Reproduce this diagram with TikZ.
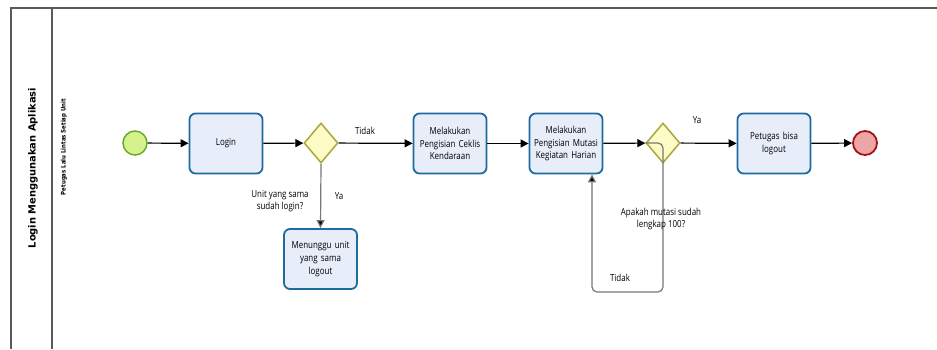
\documentclass[tikz,border=0pt]{standalone}
\usepackage{fontspec}
\setmainfont{Open Sans}[FakeStretch=0.82]
\newfontfamily\lanefont{DejaVu Sans}
\newfontfamily\lanenarrow{DejaVu Sans}[FakeStretch=0.86]
\usetikzlibrary{arrows.meta,shapes.geometric}

\definecolor{taskfill}{HTML}{E8EDFA}
\definecolor{taskline}{HTML}{1E6B9E}
\definecolor{gatefill}{HTML}{FDFBC6}
\definecolor{gateline}{HTML}{A9A838}
\definecolor{startfill}{HTML}{D6F28C}
\definecolor{startline}{HTML}{6AAB2A}
\definecolor{endfill}{HTML}{EEA5A5}
\definecolor{endline}{HTML}{A31515}
\definecolor{poolline}{HTML}{5A5A5A}
\definecolor{flowgray}{HTML}{777777}

\tikzset{
  task/.style={draw=taskline, fill=taskfill, line width=1.8pt, rounded corners=6pt,
    minimum width=73pt, minimum height=60pt, align=center, inner sep=1pt,
    font=\fontsize{9.7}{12.7}\selectfont, text width=70pt},
  gate/.style={diamond, draw=gateline, fill=gatefill, line width=1.5pt,
    minimum width=34pt, minimum height=40pt, inner sep=0pt, aspect=0.85},
  startev/.style={circle, draw=startline, fill=startfill, line width=1.5pt, minimum size=24pt, inner sep=0pt},
  endev/.style={circle, draw=endline, fill=endfill, line width=1.8pt, minimum size=24pt, inner sep=0pt},
  flow/.style={draw=black, line width=1.2pt, -{Triangle[length=8pt,width=8pt]}},
  grayflow/.style={draw=flowgray, line width=1.2pt, rounded corners=5pt, -{Triangle[length=8pt,width=8pt,fill=black]}},
  lbl/.style={font=\fontsize{9.7}{12}\selectfont, align=center, inner sep=0pt},
  poolborder/.style={draw=poolline, line width=1.2pt},
}

\begin{document}
\begin{tikzpicture}[x=1pt,y=-1pt]
\useasboundingbox (0,0) rectangle (937,349);
\fill[white] (0,0) rectangle (937,349);

% pool and lane frame
\draw[poolborder] (11,349) -- (11,8) -- (937,8);
\draw[poolborder] (52,8) -- (52,349);
\node[rotate=90, font=\lanefont\bfseries\fontsize{9.9}{12}\selectfont] (pooltitle) at (33,168) {Login Menggunakan Aplikasi};
\node[rotate=90, font=\lanenarrow\bfseries\fontsize{6.3}{8}\selectfont] (lanetitle) at (64,147) {Petugas Lalu Lintas Setiap Unit};

% events, tasks and gateways
\node[startev] (start) at (135,143) {};
\node[task] (login) at (226,143.5) {Login};
\node[gate] (g1) at (321,143) {};
\node[task] (ceklis) at (450,143.5) {Melakukan\\Pengisian Ceklis\\Kendaraan};
\node[task] (mutasi) at (566,143.5) {Melakukan\\Pengisian Mutasi\\Kegiatan Harian};
\node[gate] (g2) at (663,143) {};
\node[task] (logout) at (774,143.5) {Petugas bisa\\logout};
\node[endev] (stop) at (865,143) {};
\node[task] (tunggu) at (320.5,259) {Menunggu unit\\yang sama\\logout};

% sequence flows
\draw[flow] (start) -- (login);
\draw[flow] (login) -- (g1);
\draw[flow] (g1) -- (ceklis);
\draw[flow] (ceklis) -- (mutasi);
\draw[flow] (mutasi) -- (g2);
\draw[flow] (g2) -- (logout);
\draw[flow] (logout) -- (stop);
\draw[grayflow] (g1.south) -- (tunggu.north);
\coordinate (loopR) at (663,292);
\coordinate (loopL) at (592,292);
\draw[grayflow] (g2.west) -- (g2.center) -- (loopR) -- (loopL) -- (mutasi.south -| loopL);

% flow labels
\node[lbl] (ltidak1) at (365,131) {Tidak};
\node[lbl] (lya1) at (339,196) {Ya};
\node[lbl] (lq1) at (280,201.5) {Unit yang sama\\sudah login?};
\node[lbl] (lya2) at (697,120) {Ya};
\node[lbl] (lq2) at (661,219) {Apakah mutasi sudah\\lengkap 100?};
\node[lbl] (ltidak2) at (620,278) {Tidak};
\end{tikzpicture}
\end{document}
